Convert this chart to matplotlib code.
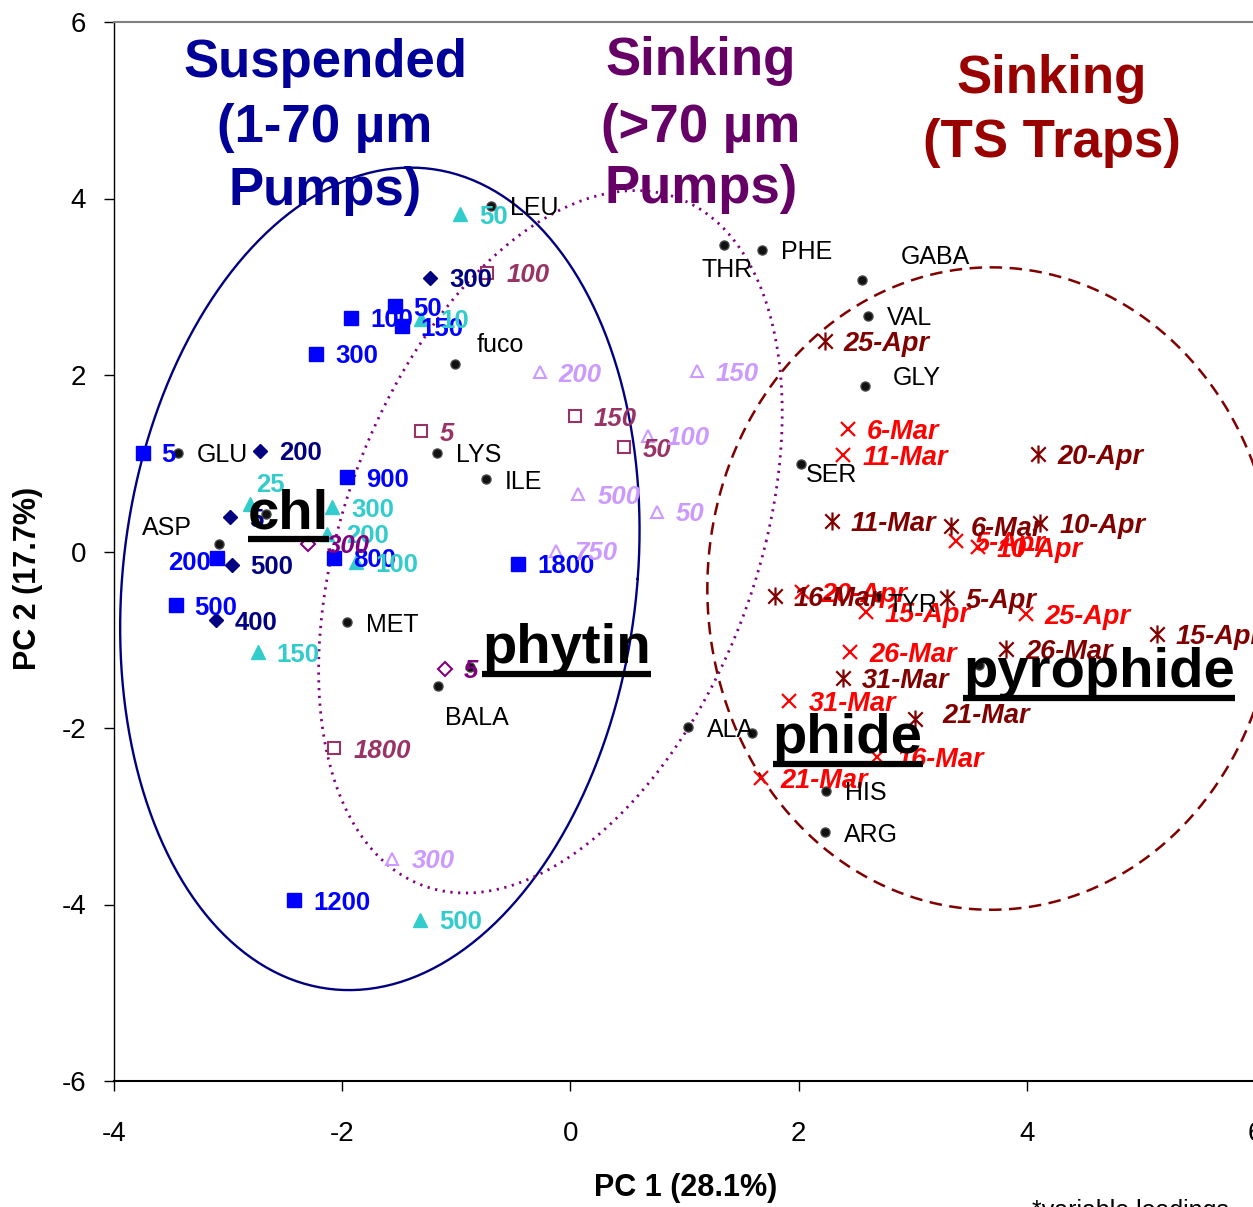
import numpy as np
import matplotlib.pyplot as plt
from matplotlib.path import Path
from matplotlib.lines import Line2D
from matplotlib.transforms import ScaledTranslation, IdentityTransform

plt.rcParams['font.family'] = ['Liberation Sans', 'DejaVu Sans']
plt.rcParams['axes.unicode_minus'] = False

# ---- data (PC1, PC2 scores) ----
# Suspended 1-70 um pumps, set A (blue squares)
blue_x = [-3.75, -1.92, -1.54, -1.48, -2.23, -1.96, -3.10, -2.07, -0.46, -3.46, -2.42]
blue_y = [1.12, 2.65, 2.78, 2.55, 2.24, 0.84, -0.07, -0.07, -0.14, -0.61, -3.95]
blue_lab = ['5', '100', '50', '150', '300', '900', '200', '800', '1800', '500', '1200']

# Suspended, set B (navy diamonds)
navy_x = [-1.23, -2.72, -2.98, -2.97, -3.11]
navy_y = [3.10, 1.14, 0.39, -0.15, -0.78]
navy_lab = ['300', '200', '5', '500', '400']

# Suspended, set C (cyan triangles)
cyan_x = [-0.97, -1.31, -2.81, -2.09, -2.13, -1.88, -2.74, -1.32]
cyan_y = [3.82, 2.64, 0.54, 0.50, 0.20, -0.12, -1.14, -4.17]
cyan_lab = ['50', '10', '25', '300', '200', '100', '150', '500']

# Sinking >70 um pumps (open markers)
purp_x = [-2.30, -1.10]
purp_y = [0.09, -1.33]
purp_lab = ['300', '5']

mauve_x = [-0.73, -1.31, 0.04, 0.47, -2.07]
mauve_y = [3.16, 1.36, 1.53, 1.18, -2.23]
mauve_lab = ['100', '5', '150', '50', '1800']

lilac_x = [-0.27, 1.11, 0.68, 0.07, 0.76, -0.13, -1.56]
lilac_y = [2.03, 2.04, 1.31, 0.65, 0.45, 0.01, -3.48]
lilac_lab = ['200', '150', '100', '500', '50', '750', '300']

# Sinking, TS traps
red_x = [2.43, 2.39, 3.38, 3.57, 2.03, 2.59, 3.99, 2.45, 1.92, 2.69, 1.67]
red_y = [1.39, 1.09, 0.12, 0.05, -0.46, -0.69, -0.71, -1.14, -1.69, -2.33, -2.57]
red_lab = ['6-Mar', '11-Mar', '5-Apr', '10-Apr', '20-Apr', '15-Apr', '25-Apr',
           '26-Mar', '31-Mar', '16-Mar', '21-Mar']

star_x = [2.23, 4.10, 2.29, 3.34, 4.12, 1.79, 3.30, 5.14, 3.82, 2.39, 3.02]
star_y = [2.38, 1.11, 0.34, 0.29, 0.32, -0.50, -0.53, -0.93, -1.11, -1.43, -1.90]
star_lab = ['25-Apr', '20-Apr', '11-Mar', '6-Mar', '10-Apr', '16-Mar', '5-Apr',
            '15-Apr', '26-Mar', '31-Mar', '21-Mar']

# variable loadings (scaled)
var_x = [-0.70, 1.35, 1.68, 2.56, 2.61, 2.58, 2.02, -1.01, -1.17, -0.74, -3.44,
         -3.08, -1.96, -1.16, 1.03, 2.24, 2.23, 2.70]
var_y = [3.92, 3.47, 3.42, 3.08, 2.67, 1.87, 0.99, 2.13, 1.12, 0.82, 1.12,
         0.08, -0.80, -1.52, -1.99, -2.71, -3.18, -0.52]
var_lab = ['LEU', 'THR', 'PHE', 'GABA', 'VAL', 'GLY', 'SER', 'fuco', 'LYS', 'ILE',
           'GLU', 'ASP', 'MET', 'BALA', 'ALA', 'HIS', 'ARG', 'TYR']

pig_x = [-2.67, -0.88, 1.59, 3.58]
pig_y = [0.42, -1.31, -2.06, -1.29]
pig_lab = ['chl', 'phytin', 'phide', 'pyrophide']

# group ellipses: centre x, centre y, half-width, half-height, shear
ell_susp = (-1.67, -0.31, 2.26, 4.66, 0.27)
ell_sink = (-0.175, 0.11, 1.89, 3.98, 0.745)
ell_trap = (3.69, -0.42, 2.49, 3.64, 0.0)

W, H = 1253, 1207
fig = plt.figure(figsize=(W / 100, H / 100), dpi=100)
ax = fig.add_axes([114 / W, 126 / H, 1141 / W, 1059 / H])
ax.set_xlim(-4, 6)
ax.set_ylim(-6, 6)
ax.set_xticks([-4, -2, 0, 2, 4, 6])
ax.set_yticks([-6, -4, -2, 0, 2, 4, 6])
ax.tick_params(axis='both', direction='out', length=7, width=1, labelsize=20)
ax.tick_params(axis='x', pad=22)
ax.tick_params(axis='y', pad=13)
ax.spines['right'].set_visible(False)
ax.spines['top'].set_color('#808080')
ax.spines['top'].set_linewidth(1.5)
ax.spines['bottom'].set_linewidth(1.5)
ax.spines['left'].set_linewidth(1)


def fpx(x, y):
    return x / W, 1 - y / H


# group titles
titles = [
    (325, ['Suspended', '(1-70 \u00b5m', 'Pumps)'], [77, 142, 205], '#000099'),
    (701, ['Sinking', '(>70 \u00b5m', 'Pumps)'], [75, 142, 203], '#660066'),
    (1052, ['Sinking', '(TS Traps)'], [93, 157], '#990000'),
]
for cx, lines, bases, col in titles:
    for s, b in zip(lines, bases):
        fig.text(*fpx(cx, b), s, ha='center', va='baseline', fontsize=38,
                 fontweight='bold', color=col, zorder=1)


def draw_ellipse(p, **kw):
    cx, cy, a, b, sh = p
    t = np.linspace(0, 2 * np.pi, 400)
    ax.plot(cx + a * np.cos(t) + sh * np.sin(t), cy + b * np.sin(t), zorder=2, **kw)


draw_ellipse(ell_susp, color='#000080', lw=1.7)
draw_ellipse(ell_sink, color='#800080', lw=2, ls=(0, (0.8, 2.0)))
draw_ellipse(ell_trap, color='#800000', lw=1.8, ls=(0, (5, 3)))

star = Path([(-1, -1), (1, 1), (-1, 1), (1, -1), (0, -1.25), (0, 1.25)],
            [Path.MOVETO, Path.LINETO, Path.MOVETO, Path.LINETO, Path.MOVETO, Path.LINETO])

ax.plot(blue_x, blue_y, 's', color='#0000FF', ms=9.5, ls='none', zorder=3)
ax.plot(navy_x, navy_y, 'D', color='#000080', ms=7.5, ls='none', zorder=3)
ax.plot(cyan_x, cyan_y, '^', color='#33CCCC', ms=10, ls='none', zorder=3)
ax.plot(purp_x, purp_y, 'D', mfc='none', mec='#800080', mew=1.5, ms=7.5, ls='none', zorder=3)
ax.plot(mauve_x, mauve_y, 's', mfc='none', mec='#993366', mew=1.5, ms=9, ls='none', zorder=3)
ax.plot(lilac_x, lilac_y, '^', mfc='none', mec='#CC99FF', mew=1.5, ms=9, ls='none', zorder=3)
ax.plot(red_x, red_y, 'x', color='#FF0000', ms=10, mew=1.6, ls='none', zorder=3)
ax.plot(star_x, star_y, marker=star, color='#800000', ms=13, mew=1.6, ls='none', zorder=3)
ax.plot(var_x + pig_x, var_y + pig_y, 'o', color='#111111', mec='#444444', ms=6.5,
        ls='none', zorder=3)


def put_labels(xs, ys, labs, color, size=18.5, weight='bold', style='normal', special=None):
    special = special or {}
    for x, y, s in zip(xs, ys, labs):
        dx, dy, ha = special.get(s, (19, 0, 'left'))
        ax.annotate(s, (x, y), xytext=(dx * 0.72, dy * 0.72), textcoords='offset points',
                    ha=ha, va='center_baseline', fontsize=size, fontweight=weight,
                    fontstyle=style, color=color, zorder=4)


put_labels(blue_x, blue_y, blue_lab, '#0000FF', special={'200': (-6, -3, 'right')})
put_labels(navy_x, navy_y, navy_lab, '#000080')
put_labels(cyan_x, cyan_y, cyan_lab, '#33CCCC', special={'25': (6, 21, 'left')})
put_labels(purp_x, purp_y, purp_lab, '#800080', style='italic')
put_labels(mauve_x, mauve_y, mauve_lab, '#993366', style='italic')
put_labels(lilac_x, lilac_y, lilac_lab, '#CC99FF', style='italic')
put_labels(red_x, red_y, red_lab, '#FF0000', size=19.5, style='italic')
put_labels(star_x, star_y, star_lab, '#800000', size=19.5, style='italic',
           special={'21-Mar': (27, 6, 'left')})
put_labels(var_x, var_y, var_lab, 'black', size=18, weight='normal',
           special={'THR': (3, -22, 'center'), 'GABA': (38, 25, 'left'),
                    'GLY': (28, 11, 'left'), 'SER': (5, -8, 'left'),
                    'fuco': (21, 21, 'left'), 'ASP': (-27, 19, 'right'),
                    'BALA': (39, -30, 'center'), 'TYR': (9, -5, 'left')})

# pigment loadings: large underlined labels
pig_off = {'chl': (-18, -14), 'phytin': (12, 4), 'phide': (21, -20), 'pyrophide': (-16, -22)}
big = []
for x, y, s in zip(pig_x, pig_y, pig_lab):
    dx, dy = pig_off[s]
    tr = ax.transData + ScaledTranslation(dx / 100, dy / 100, fig.dpi_scale_trans)
    t = ax.text(x, y, s, transform=tr, ha='left', va='baseline', fontsize=40.5,
                fontweight='bold', color='black', zorder=5)
    big.append((t, tr.transform((x, y))))

fig.canvas.draw()
rend = fig.canvas.get_renderer()
for t, (bx, by) in big:
    bb = t.get_window_extent(rend)
    fig.add_artist(Line2D([bb.x0, bb.x1], [by - 11, by - 11], color='black', lw=4.5,
                          solid_capstyle='butt', transform=IdentityTransform(), zorder=6))

fig.text(*fpx(686, 1188), 'PC 1 (28.1%)', ha='center', va='center', fontsize=22,
         fontweight='bold')
fig.text(*fpx(28, 578), 'PC 2 (17.7%)', ha='center', va='center', fontsize=22,
         fontweight='bold', rotation=90)
fig.text(*fpx(1032, 1211), '*variable loadings', ha='left', va='center', fontsize=18)

fig.savefig('out.png', dpi=100)
